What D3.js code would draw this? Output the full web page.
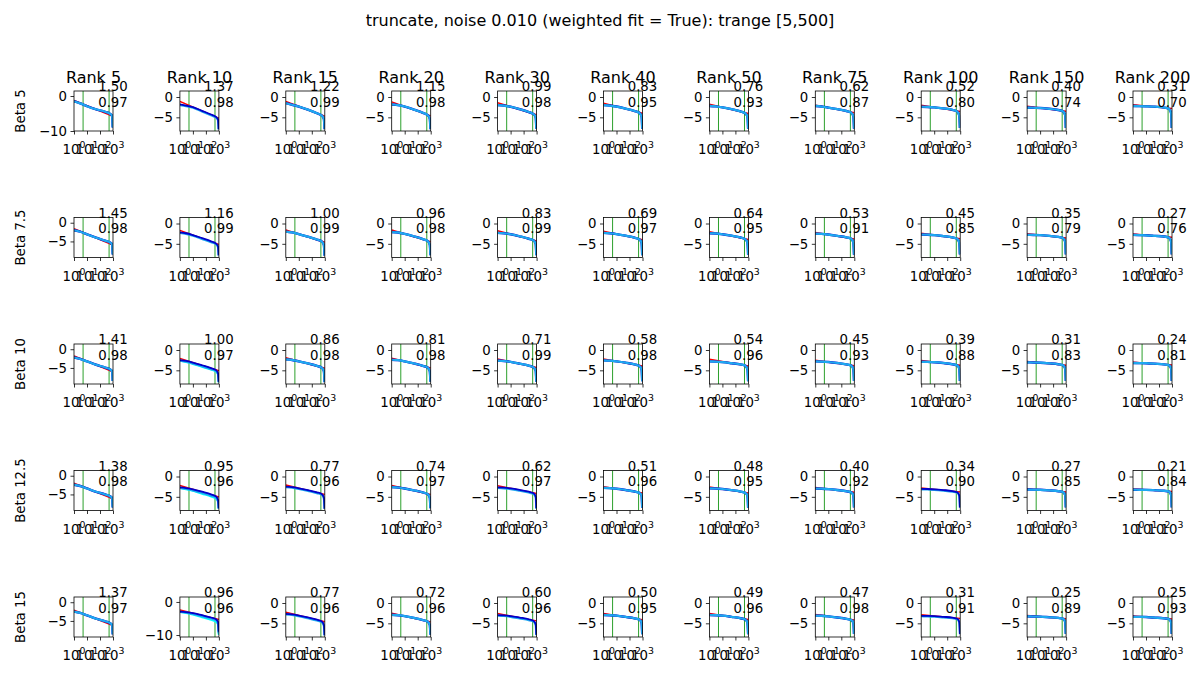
<!DOCTYPE html>
<html><head><meta charset="utf-8">
<script src="https://cdn.jsdelivr.net/npm/d3@7"></script>
<style>body{margin:0;background:#fff}svg{display:block;font-family:"DejaVu Sans",sans-serif}</style>
</head><body><svg id="c" width="1200" height="700"></svg>
<script>
const ranks = [5, 10, 15, 20, 30, 40, 50, 75, 100, 150, 200];
const betas = ["5", "7.5", "10", "12.5", "15"];
const xs = [1, 3, 10, 50, 250, 600, 850, 950];
const xTickValues = [1, 10, 100, 1000];
const xTickExponents = ["0", "1", "2", "3"];
const trange = [5, 500];

const slopeRows = [
  [1.50, 1.37, 1.22, 1.15, 0.99, 0.83, 0.76, 0.62, 0.52, 0.40, 0.31],
  [1.45, 1.16, 1.00, 0.96, 0.83, 0.69, 0.64, 0.53, 0.45, 0.35, 0.27],
  [1.41, 1.00, 0.86, 0.81, 0.71, 0.58, 0.54, 0.45, 0.39, 0.31, 0.24],
  [1.38, 0.95, 0.77, 0.74, 0.62, 0.51, 0.48, 0.40, 0.34, 0.27, 0.21],
  [1.37, 0.96, 0.77, 0.72, 0.60, 0.50, 0.49, 0.47, 0.31, 0.25, 0.25]
];
const r2Rows = [
  [0.97, 0.98, 0.99, 0.98, 0.98, 0.95, 0.93, 0.87, 0.80, 0.74, 0.70],
  [0.98, 0.99, 0.99, 0.98, 0.99, 0.97, 0.95, 0.91, 0.85, 0.79, 0.76],
  [0.98, 0.97, 0.98, 0.98, 0.99, 0.98, 0.96, 0.93, 0.88, 0.83, 0.81],
  [0.98, 0.96, 0.96, 0.97, 0.97, 0.96, 0.95, 0.92, 0.90, 0.85, 0.84],
  [0.97, 0.96, 0.96, 0.96, 0.96, 0.95, 0.96, 0.98, 0.91, 0.89, 0.93]
];
const interceptRows = [
  [-1.3, -1.1, -1.1, -1.2, -1.4, -1.5, -1.8, -2.0, -2.0, -2.3, -1.9],
  [-1.6, -1.7, -1.6, -1.6, -1.8, -1.9, -2.0, -2.2, -2.4, -2.5, -2.6],
  [-1.8, -2.1, -1.9, -2.0, -2.2, -2.2, -2.3, -2.5, -2.6, -2.8, -3.0],
  [-2.0, -2.2, -2.1, -2.2, -2.3, -2.5, -2.6, -2.7, -2.8, -3.0, -3.05],
  [-2.1, -2.4, -2.3, -2.5, -2.6, -2.6, -2.6, -2.8, -2.9, -3.1, -3.2]
];

const blueRows = [
  [
    [-1.5, -2.1, -2.9, -3.8, -4.5, -5.1, -5.7, -9.0],
    [-1.8, -2.1, -2.5, -3.4, -4.3, -4.9, -5.5, -7.9],
    [-1.5, -1.9, -2.35, -3.1, -4.0, -4.6, -5.4, -7.9],
    [-1.85, -2.0, -2.35, -3.1, -3.9, -4.5, -5.3, -7.9],
    [-2.0, -2.1, -2.4, -3.0, -3.7, -4.25, -5.0, -7.8],
    [-2.0, -2.1, -2.35, -2.85, -3.45, -3.95, -4.8, -7.8],
    [-2.2, -2.3, -2.55, -3.0, -3.55, -4.05, -4.9, -7.8],
    [-2.2, -2.35, -2.6, -3.0, -3.45, -3.9, -4.8, -7.8],
    [-2.4, -2.45, -2.55, -2.8, -3.15, -3.6, -4.6, -7.6],
    [-2.6, -2.65, -2.7, -2.9, -3.2, -3.55, -4.5, -7.6],
    [-2.2, -2.25, -2.3, -2.4, -2.6, -2.95, -3.9, -7.6]
  ],
  [
    [-2.0, -2.4, -3.1, -4.0, -4.8, -5.3, -5.8, -8.5],
    [-2.2, -2.4, -2.85, -3.6, -4.4, -4.95, -5.6, -7.8],
    [-2.0, -2.2, -2.6, -3.25, -3.95, -4.45, -5.3, -7.9],
    [-2.1, -2.2, -2.55, -3.15, -3.85, -4.35, -5.2, -7.8],
    [-2.3, -2.4, -2.65, -3.15, -3.75, -4.2, -5.0, -7.8],
    [-2.3, -2.4, -2.6, -3.0, -3.5, -3.95, -4.8, -7.8],
    [-2.4, -2.45, -2.65, -3.0, -3.45, -3.9, -4.8, -7.7],
    [-2.5, -2.55, -2.72, -3.05, -3.42, -3.8, -4.7, -7.7],
    [-2.7, -2.75, -2.85, -3.1, -3.4, -3.8, -4.7, -7.6],
    [-2.8, -2.82, -2.87, -3.05, -3.3, -3.6, -4.5, -7.6],
    [-2.8, -2.85, -2.9, -3.05, -3.2, -3.5, -4.4, -7.6]
  ],
  [
    [-2.2, -2.6, -3.25, -4.15, -4.9, -5.4, -5.9, -8.5],
    [-2.5, -2.7, -3.1, -3.75, -4.45, -4.95, -5.7, -7.8],
    [-2.3, -2.45, -2.78, -3.3, -3.9, -4.4, -5.2, -7.9],
    [-2.4, -2.5, -2.8, -3.3, -3.9, -4.35, -5.2, -7.8],
    [-2.6, -2.7, -2.92, -3.35, -3.85, -4.3, -5.1, -7.8],
    [-2.55, -2.62, -2.8, -3.12, -3.55, -3.95, -4.8, -7.7],
    [-2.8, -2.85, -2.98, -3.25, -3.55, -3.9, -4.8, -7.7],
    [-2.8, -2.85, -2.95, -3.2, -3.55, -3.85, -4.7, -7.6],
    [-2.9, -2.93, -3.0, -3.2, -3.5, -3.8, -4.6, -7.6],
    [-3.05, -3.07, -3.12, -3.28, -3.5, -3.78, -4.6, -7.6],
    [-3.2, -3.22, -3.25, -3.38, -3.55, -3.75, -4.5, -7.6]
  ],
  [
    [-2.4, -2.75, -3.4, -4.3, -5.0, -5.5, -6.0, -8.5],
    [-2.7, -2.85, -3.15, -3.75, -4.4, -4.9, -5.7, -7.8],
    [-2.5, -2.6, -2.9, -3.35, -3.9, -4.35, -5.2, -7.9],
    [-2.6, -2.7, -2.95, -3.4, -3.92, -4.35, -5.2, -7.8],
    [-2.7, -2.75, -2.93, -3.3, -3.75, -4.15, -4.9, -7.8],
    [-2.8, -2.85, -3.02, -3.32, -3.7, -4.05, -4.8, -7.7],
    [-2.9, -2.95, -3.08, -3.36, -3.72, -4.05, -4.8, -7.7],
    [-2.95, -3.0, -3.1, -3.33, -3.62, -3.92, -4.7, -7.6],
    [-3.05, -3.08, -3.15, -3.33, -3.58, -3.88, -4.7, -7.6],
    [-3.2, -3.22, -3.27, -3.42, -3.62, -3.85, -4.6, -7.6],
    [-3.25, -3.27, -3.28, -3.38, -3.52, -3.72, -4.5, -7.6]
  ],
  [
    [-2.5, -2.85, -3.5, -4.4, -5.1, -5.6, -6.1, -8.6],
    [-2.9, -3.05, -3.35, -4.0, -4.7, -5.2, -6.0, -9.0],
    [-2.7, -2.8, -3.1, -3.55, -4.1, -4.55, -5.4, -7.9],
    [-2.9, -3.0, -3.22, -3.66, -4.2, -4.6, -5.4, -7.8],
    [-3.0, -3.05, -3.21, -3.58, -4.0, -4.4, -5.2, -7.8],
    [-2.95, -3.0, -3.12, -3.42, -3.78, -4.12, -4.9, -7.7],
    [-2.95, -3.0, -3.1, -3.4, -3.75, -4.1, -4.9, -7.7],
    [-3.1, -3.15, -3.28, -3.56, -3.9, -4.2, -4.9, -7.6],
    [-3.15, -3.17, -3.22, -3.4, -3.6, -3.88, -4.7, -7.6],
    [-3.3, -3.32, -3.35, -3.5, -3.67, -3.9, -4.6, -7.6],
    [-3.4, -3.42, -3.45, -3.6, -3.77, -3.98, -4.7, -7.6]
  ]
];

// second (sky blue) curve where it separates from the dark blue one; null = coincides
const skyRows = [
  [null, [-2.0, -2.25, -2.65, -3.55, -4.5, -5.05, -5.7, -8.0], null, null, null, null, null, null, null, null, null],
  [null, [-2.3, -2.55, -3.0, -3.8, -4.6, -5.1, -5.8, -7.9], null, null, null, null, null, null, null, null, null],
  [null, [-2.6, -2.85, -3.3, -4.0, -4.7, -5.2, -5.9, -7.9], null, null, null, null, null, null, null, null, null],
  [null, [-2.8, -3.0, -3.4, -4.0, -4.7, -5.2, -6.0, -7.9], [-2.6, -2.75, -3.05, -3.55, -4.1, -4.55, -5.4, -8.0], null,
   [-2.8, -2.9, -3.1, -3.5, -3.95, -4.35, -5.1, -7.9], null, null, null, [-3.15, -3.2, -3.3, -3.5, -3.75, -4.0, -4.8, -7.7], null, null],
  [null, [-3.0, -3.2, -3.6, -4.3, -5.0, -5.5, -6.4, -9.5], [-2.8, -2.95, -3.25, -3.75, -4.3, -4.75, -5.6, -8.0], null,
   [-3.1, -3.2, -3.4, -3.8, -4.2, -4.6, -5.4, -7.9], null, null, null, [-3.25, -3.3, -3.38, -3.55, -3.75, -4.0, -4.8, -7.7], null, null]
];
const cyanRows = [
  [null, null, null, null, null, null, null, null, null, null, null],
  [null, null, null, null, null, null, null, null, null, null, null],
  [null, [-2.7, -3.0, -3.5, -4.2, -4.9, -5.4, -6.1, -8.0], null, null, null, null, null, null, null, null, null],
  [null, [-2.9, -3.2, -3.6, -4.3, -5.0, -5.5, -6.3, -8.0], null, null, null, null, null, null, null, null, null],
  [null, [-3.1, -3.4, -3.9, -4.7, -5.5, -6.1, -7.0, -10.0], null, null, null, null, null, null, null, null, null]
];

// y-axis limits and tick values per panel (null = default)
const yLimitsDefault = [-8.37, 1.48];
const yTicksDefault = [0, -5];
const yLimitRows = [
  [[-10.0, 1.43], null, null, null, null, null, null, null, null, null, null],
  [[-9.3, 1.4], null, null, null, null, null, null, null, null, null, null],
  [[-9.3, 1.4], null, null, null, null, null, null, null, null, null, null],
  [[-9.3, 1.4], null, null, null, null, null, null, null, null, null, null],
  [[-9.3, 1.4], [-10.6, 1.5], null, null, null, null, null, null, null, null, null]
];
const yTickRows = [
  [[0, -10], null, null, null, null, null, null, null, null, null, null],
  [null, null, null, null, null, null, null, null, null, null, null],
  [null, null, null, null, null, null, null, null, null, null, null],
  [null, null, null, null, null, null, null, null, null, null, null],
  [null, [0, -10], null, null, null, null, null, null, null, null, null]
];

const svg = d3.select("#c");
const W = 39, H = 40;
const colX = d3.scaleLinear().domain([0, ranks.length - 1]).range([74, 1133]);
const rowY = d3.scaleLinear().domain([0, betas.length - 1]).range([91, 597]);

svg.append("text").attr("x", 600).attr("y", 26).attr("text-anchor", "middle")
  .style("font-size", "16px").text("truncate, noise 0.010 (weighted fit = True): trange [5,500]");

const line = (x, y) => d3.line().x(d => x(d[0])).y(d => y(d[1])).curve(d3.curveMonotoneX);
const fmt = d3.format(".2f");
const tickFmt = d => d === 0 ? "0" : "\u2212" + Math.abs(d);
const SKY = "#1ea8f0", BLUE = "#0000cc";

betas.forEach((beta, r) => {
  ranks.forEach((rank, c) => {
    const id = `clip-${r}-${c}`;
    const g = svg.append("g").attr("transform", `translate(${colX(c)},${rowY(r)})`);
    g.append("clipPath").attr("id", id).append("rect").attr("width", W).attr("height", H);
    const x = d3.scaleLog().domain([1, 1000]).range([0, W]);
    const y = d3.scaleLinear().domain(yLimitRows[r][c] || yLimitsDefault).range([H, 0]);
    const plot = g.append("g").attr("clip-path", `url(#${id})`);

    trange.forEach(t => plot.append("line").attr("x1", x(t)).attr("x2", x(t))
      .attr("y1", 0).attr("y2", H).attr("stroke", "#2ca02c").attr("stroke-width", 1));

    const a = interceptRows[r][c], s = slopeRows[r][c];
    const fit = [[1, a], [1000, a - 3 * s]];
    plot.append("path").datum(fit).attr("d", line(x, y)).attr("fill", "none")
      .attr("stroke", "red").attr("stroke-width", 1.5);

    const blue = xs.map((xv, i) => [xv, blueRows[r][c][i]]);
    const cy = cyanRows[r][c];
    if (cy) plot.append("path").datum(xs.map((xv, i) => [xv, cy[i]])).attr("d", line(x, y))
      .attr("fill", "none").attr("stroke", "cyan").attr("stroke-width", 1.5);
    const sk = skyRows[r][c];
    if (sk) {
      plot.append("path").datum(xs.map((xv, i) => [xv, sk[i]])).attr("d", line(x, y))
        .attr("fill", "none").attr("stroke", SKY).attr("stroke-width", 2.2);
      plot.append("path").datum(blue).attr("d", line(x, y)).attr("fill", "none")
        .attr("stroke", BLUE).attr("stroke-width", 1.8);
    } else {
      plot.append("path").datum(blue).attr("d", line(x, y)).attr("fill", "none")
        .attr("stroke", BLUE).attr("stroke-width", 2.4);
      plot.append("path").datum(blue).attr("d", line(x, y)).attr("fill", "none")
        .attr("stroke", SKY).attr("stroke-width", 2.2);
    }

    g.append("rect").attr("width", W).attr("height", H).attr("fill", "none")
      .attr("stroke", "#000").attr("stroke-width", 0.8);

    const ya = g.append("g").call(d3.axisLeft(y).tickValues(yTickRows[r][c] || yTicksDefault)
      .tickSize(3.5).tickPadding(3.5).tickFormat(tickFmt));
    ya.select(".domain").remove();
    ya.selectAll("text").style("font-size", "13.3px").style("font-family", "DejaVu Sans").attr("fill", "#000");
    ya.selectAll("line").attr("stroke", "#000").attr("stroke-width", 0.8);

    const xa = g.append("g").attr("transform", `translate(0,${H})`)
      .call(d3.axisBottom(x).tickValues(xTickValues).tickSize(3.5).tickFormat(""));
    xa.select(".domain").remove();
    xa.selectAll("line").attr("stroke", "#000").attr("stroke-width", 0.8);
    xTickValues.forEach((tv, i) => {
      const t = g.append("text").attr("x", x(tv)).attr("y", H + 23).attr("text-anchor", "middle")
        .style("font-size", "13.3px");
      t.append("tspan").text("10");
      t.append("tspan").attr("dy", -6).style("font-size", "9.4px").text(xTickExponents[i]);
    });

    g.append("text").attr("x", x(1000)).attr("y", 0).attr("text-anchor", "middle")
      .style("font-size", "13.3px").text(fmt(s));
    g.append("text").attr("x", x(1000)).attr("y", 15.5).attr("text-anchor", "middle")
      .style("font-size", "13.3px").text(fmt(r2Rows[r][c]));

    if (r === 0) g.append("text").attr("x", W / 2).attr("y", -8).attr("text-anchor", "middle")
      .style("font-size", "16px").text("Rank " + rank);
    if (c === 0) g.append("text").attr("transform", `translate(${20 - colX(0)},${H / 2}) rotate(-90)`)
      .attr("text-anchor", "middle").attr("dominant-baseline", "central")
      .style("font-size", "13.3px").text("Beta " + beta);
  });
});
</script></body></html>
